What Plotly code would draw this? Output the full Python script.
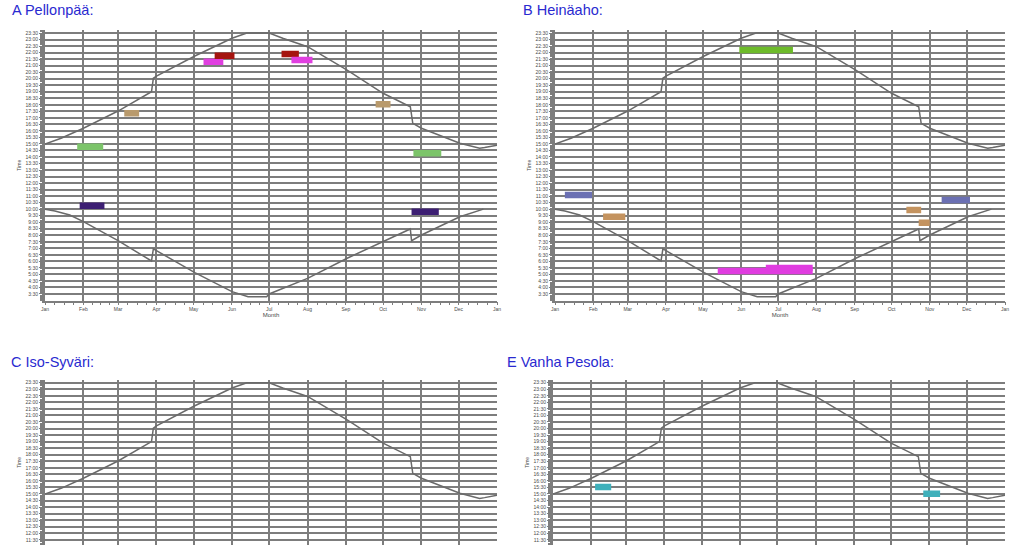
import plotly.graph_objects as go

W, H = 1024, 545

# ---------------- data ----------------
month_labels = ["Jan", "Feb", "Mar", "Apr", "May", "Jun", "Jul", "Aug", "Sep", "Oct", "Nov", "Dec", "Jan"]
month_days = [0, 31, 59, 90, 120, 151, 181, 212, 243, 273, 304, 334, 365]

time_ticks = [3.5, 4.0, 4.5, 5.0, 5.5, 6.0, 6.5, 7.0, 7.5, 8.0, 8.5, 9.0, 9.5, 10.0, 10.5, 11.0,
              11.5, 12.0, 12.5, 13.0, 13.5, 14.0, 14.5, 15.0, 15.5, 16.0, 16.5, 17.0, 17.5, 18.0,
              18.5, 19.0, 19.5, 20.0, 20.5, 21.0, 21.5, 22.0, 22.5, 23.0, 23.5]
time_labels = ["3:30", "4:00", "4:30", "5:00", "5:30", "6:00", "6:30", "7:00", "7:30", "8:00",
               "8:30", "9:00", "9:30", "10:00", "10:30", "11:00", "11:30", "12:00", "12:30",
               "13:00", "13:30", "14:00", "14:30", "15:00", "15:30", "16:00", "16:30", "17:00",
               "17:30", "18:00", "18:30", "19:00", "19:30", "20:00", "20:30", "21:00", "21:30",
               "22:00", "22:30", "23:00", "23:30"]

# sunset curve (day of year, hour)
sunset_day = [0, 13, 31, 59, 86, 87.5, 90, 121, 151, 163, 181, 192, 212, 244, 273, 295, 297,
              304, 335, 351, 355, 365]
sunset_time = [15.0, 15.43, 16.2, 17.52, 19.0, 20.03, 20.2, 21.74, 23.1, 23.5, 23.5, 23.1, 22.45,
               20.66, 18.88, 17.85, 16.58, 16.2, 15.05, 14.66, 14.72, 14.9]

# sunrise curve (day of year, hour)
sunrise_day = [0, 8, 20, 31, 59, 86, 87.5, 90, 121, 151, 164, 179, 181, 212, 244, 273, 295, 296,
               304, 335, 354]
sunrise_time = [10.0, 9.86, 9.55, 9.04, 7.59, 6.03, 6.95, 6.82, 5.13, 3.68, 3.29, 3.29, 3.5, 4.7,
                6.24, 7.51, 8.48, 7.58, 8.02, 9.42, 10.0]

# observation marks: colour, start day, end day, hour
a_color = ["#7cc46a", "#3d1f73", "#b99a6c", "#e03fe0", "#a5140f", "#a5140f", "#e03fe0", "#b99a6c", "#3d1f73", "#7cc46a"]
a_start = [26, 28, 64, 128, 137, 191, 199, 267, 296, 297.5]
a_end = [47, 48, 76, 144, 153, 205, 216, 279, 318, 320]
a_time = [14.79, 10.27, 17.35, 21.3, 21.76, 21.89, 21.43, 18.04, 9.81, 14.28]

b_color = ["#6b70b3", "#c4935f", "#6dbb2a", "#e03ce0", "#e03ce0", "#c4935f", "#c4935f", "#6b70b3"]
b_start = [8, 39, 149.5, 132, 171, 285, 295, 313.6]
b_end = [30, 57, 193, 209, 209, 297, 304, 336.6]
b_time = [11.09, 9.42, 22.2, 5.27, 5.5, 9.94, 8.96, 10.7]

c_color = []
c_start = []
c_end = []
c_time = []

e_color = ["#3fb0bb", "#3fb0bb"]
e_start = [34, 299]
e_end = [47, 312.6]
e_time = [15.53, 15.02]

panel_titles = ["A Pellonpää:", "B Heinäaho:", "C Iso-Syväri:", "E Vanha Pesola:"]

# ---------------- layout geometry (pixels) ----------------
panels = [
    dict(x=(45, 497), y=(30, 300.5), yr=[3.0, 23.73], marks=(a_color, a_start, a_end, a_time),
         title_xy=(10, 10.5), bottom=True),
    dict(x=(555, 1005), y=(30, 300.5), yr=[3.0, 23.73], marks=(b_color, b_start, b_end, b_time),
         title_xy=(521, 10.5), bottom=True),
    dict(x=(45, 497), y=(379.7, 545), yr=[11.1, 23.73], marks=(c_color, c_start, c_end, c_time),
         title_xy=(9, 362), bottom=False),
    dict(x=(553, 1005), y=(379.7, 545), yr=[11.1, 23.73], marks=(e_color, e_start, e_end, e_time),
         title_xy=(505, 362), bottom=False),
]

minor_x = []
for i in range(len(month_days) - 1):
    a, b = month_days[i], month_days[i + 1]
    minor_x += [a + (b - a) * k / 4 for k in (1, 2, 3)]

FONT = "Liberation Sans, Arial, sans-serif"
GRID = "#7d7d7d"
CURVE = "#6a6a6a"
TICKTXT = "#4a4a4a"

fig = go.Figure()
annotations = []

for i, p in enumerate(panels):
    n = "" if i == 0 else str(i + 1)
    xa, ya = "x" + n, "y" + n
    fig.add_trace(go.Scatter(x=sunset_day, y=sunset_time, mode="lines",
                             line=dict(color=CURVE, width=1.5), xaxis=xa, yaxis=ya,
                             showlegend=False, hoverinfo="skip"))
    fig.add_trace(go.Scatter(x=sunrise_day, y=sunrise_time, mode="lines",
                             line=dict(color=CURVE, width=1.5), xaxis=xa, yaxis=ya,
                             showlegend=False, hoverinfo="skip"))
    cols, st, en, tm = p["marks"]
    for c, s, e, t in zip(cols, st, en, tm):
        fig.add_trace(go.Scatter(x=[s, e], y=[t, t], mode="lines",
                                 line=dict(color=c, width=6.5), xaxis=xa, yaxis=ya,
                                 showlegend=False))

    xdom = [p["x"][0] / W, p["x"][1] / W]
    ydom = [max(0, 1 - p["y"][1] / H), 1 - p["y"][0] / H]
    fig.layout["xaxis" + n] = dict(
        domain=xdom, range=[0, 365], anchor=ya,
        tickmode="array", tickvals=month_days, ticktext=month_labels,
        showgrid=True, gridcolor=GRID, gridwidth=2,
        showline=True, linecolor=GRID, linewidth=1.5,
        ticks="outside", ticklen=3, tickcolor=GRID, tickwidth=1,
        minor=dict(tickmode="array", tickvals=minor_x, ticks="outside", ticklen=3,
                   tickcolor=GRID, showgrid=False),
        tickfont=dict(family=FONT, size=5, color=TICKTXT),
        showticklabels=p["bottom"], zeroline=False, automargin=False,
        title=dict(text="Month" if p["bottom"] else "", font=dict(family=FONT, size=6, color=TICKTXT),
                   standoff=0),
    )
    fig.layout["yaxis" + n] = dict(
        domain=ydom, range=p["yr"], anchor=xa,
        tickmode="array", tickvals=time_ticks, ticktext=time_labels,
        showgrid=True, gridcolor=GRID, gridwidth=2,
        showline=True, linecolor=GRID, linewidth=3,
        ticks="outside", ticklen=3, tickcolor=GRID, tickwidth=1,
        minor=dict(dtick=1 / 12, ticks="outside", ticklen=2, tickcolor=GRID, showgrid=False),
        tickfont=dict(family=FONT, size=5, color=TICKTXT),
        zeroline=False, automargin=False,
        title=dict(text="Time", font=dict(family=FONT, size=5, color=TICKTXT), standoff=4),
    )
    tx, ty = p["title_xy"]
    annotations.append(dict(text=panel_titles[i], x=tx / W, y=1 - ty / H, xref="paper", yref="paper",
                            xanchor="left", yanchor="middle", showarrow=False,
                            font=dict(family=FONT, size=14.5, color="#2a2ad0")))

fig.update_layout(
    width=W, height=H,
    margin=dict(l=0, r=0, t=0, b=0),
    paper_bgcolor="white", plot_bgcolor="white",
    annotations=annotations,
    showlegend=False,
)

fig.write_html("out.html",
               config={"displayModeBar": False},
               post_script="document.body.style.margin='0';document.body.style.overflow='hidden';")
